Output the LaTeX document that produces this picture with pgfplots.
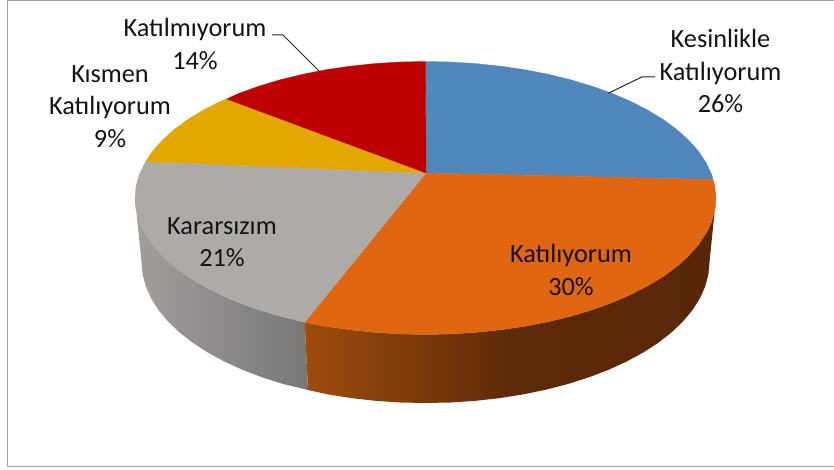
\documentclass[border=0pt]{standalone}
\usepackage{pgfplots}
\pgfplotsset{compat=1.18}
\usepackage{fontspec}
\setmainfont{Carlito}
\definecolor{cblue}{HTML}{4F87BC}
\definecolor{corange}{HTML}{E06612}
\definecolor{cgray}{HTML}{AEAAA8}
\definecolor{cyellow}{HTML}{E2A700}
\definecolor{cred}{HTML}{BF0000}
\definecolor{cborder}{HTML}{9E9E9E}
\tikzset{lbl/.style={font=\fontsize{26.3}{32.5}\selectfont, align=center, text=black!92, inner sep=0pt}}
\begin{document}
\begin{tikzpicture}
\begin{axis}[
  scale only axis, width=834pt, height=470pt,
  xmin=0, xmax=834, ymin=0, ymax=470, y dir=reverse,
  axis lines=none,
]
% page extent
\addplot[draw=none] coordinates {(0,0) (834,470)};
% frame
\addplot[cborder, line width=1.6pt] coordinates {(834,0.6) (7.5,0.6) (7.5,466.3) (834,466.3)};
% side walls
\addplot[draw=none, left color={rgb,255:red,161;green,158;blue,156}, right color={rgb,255:red,119;green,119;blue,118}, middle color={rgb,255:red,142;green,139;blue,138}] coordinates {
 (304.7,322.3) (280.2,316.2) (258.9,309.8) (238.8,302.6) (220.1,294.5) (203.0,285.7) (187.5,276.3) (173.9,266.3) (162.2,255.7) (152.5,244.7) (144.9,233.3) (139.4,221.7) (136.1,209.9) (135,198)
 (141.5,262) (142.6,274.3) (145.8,286.5) (151.2,298.5) (158.6,310.2) (168.1,321.6) (179.6,332.5) (192.9,342.9) (207.9,352.6) (224.7,361.7) (242.9,370.0) (262.6,377.5) (283.5,384.1) (308,390)
} -- cycle;
\addplot[draw=none, left color={rgb,255:red,159;green,76;blue,12}, right color={rgb,255:red,88;green,39;blue,8}, middle color={rgb,255:red,94;green,42;blue,8}] coordinates {
 (304.7,322.3) (326.1,326.3) (350.3,329.8) (375.1,332.4) (400.2,334.0) (425.5,334.5) (450.8,334.0) (475.9,332.4) (500.7,329.8) (524.9,326.3) (548.3,321.7) (570.8,316.2) (592.1,309.8) (612.2,302.6) (630.9,294.5) (648.0,285.7) (663.5,276.3) (677.1,266.3) (688.8,255.7) (698.5,244.7) (706.1,233.3) (711.6,221.7) (714.9,209.9) (716,198)
 (709.5,262) (708.4,274.3) (705.2,286.5) (699.8,298.5) (692.4,310.2) (682.9,321.6) (671.4,332.5) (658.1,342.9) (643.1,352.6) (626.3,361.7) (608.1,370.0) (588.4,377.5) (567.5,384.1) (545.5,389.8) (522.6,394.5) (499.0,398.2) (474.8,400.9) (450.3,402.5) (425.5,403) (400.7,402.5) (376.2,400.9) (352.0,398.2) (328.4,394.5) (308,390)
} -- cycle;
% top faces
\addplot[fill=cblue, draw=cblue, line width=0.3pt] coordinates {
 (426,173) (425.5,61.5) (450.8,62.0) (475.9,63.6) (500.7,66.2) (524.9,69.7) (548.3,74.3) (570.8,79.8) (592.1,86.2) (612.2,93.4) (630.9,101.5) (648.0,110.3) (663.5,119.7) (677.1,129.8) (688.8,140.3) (698.5,151.3) (706.1,162.7) (711.6,174.3) (713,179.5)
} -- cycle;
\addplot[fill=corange, draw=corange, line width=0.3pt] coordinates {
 (426,173) (713,179.5) (714.9,186.1) (716,198) (714.9,209.9) (711.6,221.7) (706.1,233.3) (698.5,244.7) (688.8,255.7) (677.1,266.3) (663.5,276.3) (648.0,285.7) (630.9,294.5) (612.2,302.6) (592.1,309.8) (570.8,316.2) (548.3,321.7) (524.9,326.3) (500.7,329.8) (475.9,332.4) (450.8,334.0) (425.5,334.5) (400.2,334.0) (375.1,332.4) (350.3,329.8) (326.1,326.3) (304.7,322.3)
} -- cycle;
\addplot[fill=cgray, draw=cgray, line width=0.3pt] coordinates {
 (426,173) (304.7,322.3) (280.2,316.2) (258.9,309.8) (238.8,302.6) (220.1,294.5) (203.0,285.7) (187.5,276.3) (173.9,266.3) (162.2,255.7) (152.5,244.7) (144.9,233.3) (139.4,221.7) (136.1,209.9) (135,198) (136.1,186.1) (139.4,174.3) (145.7,161.5)
} -- cycle;
\addplot[fill=cyellow, draw=cyellow, line width=0.3pt] coordinates {
 (426,173) (145.7,161.5) (152.5,151.3) (162.2,140.3) (173.9,129.8) (187.5,119.7) (203.0,110.3) (220.1,101.5) (226.7,99.0)
} -- cycle;
\addplot[fill=cred, draw=cred, line width=0.3pt] coordinates {
 (426,173) (226.7,99.0) (238.8,93.4) (258.9,86.2) (280.2,79.8) (302.7,74.3) (326.1,69.7) (350.3,66.2) (375.1,63.6) (400.2,62.0) (425.5,61.5)
} -- cycle;
% leader lines
\addplot[black!85, line width=1pt] coordinates {(272,35) (283,35) (320,72)};
\addplot[black!85, line width=1pt] coordinates {(655,77) (641.7,77) (608.3,93.3)};
% labels
\node[lbl] at (axis cs:195,44) {Katılmıyorum\\14\%};
\node[lbl] at (axis cs:720.5,71) {Kesinlikle\\Katılıyorum\\26\%};
\node[lbl] at (axis cs:110,106.5) {Kısmen\\Katılıyorum\\9\%};
\node[lbl] at (axis cs:222,242) {Kararsızım\\21\%};
\node[lbl] at (axis cs:571,270) {Katılıyorum\\30\%};
\end{axis}
\end{tikzpicture}
\end{document}
